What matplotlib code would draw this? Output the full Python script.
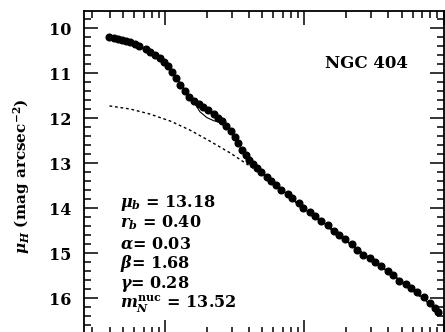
import matplotlib
matplotlib.use("Agg")
import matplotlib.pyplot as plt
import numpy as np
from matplotlib.ticker import MultipleLocator, LogLocator, NullFormatter

# surface brightness profile (log r in arcsec, mu_H in mag/arcsec^2)
LOG_R = [-1.40, -1.37, -1.34, -1.31, -1.28, -1.25, -1.22, -1.19, -1.14, -1.11,
         -1.07, -1.04, -1.01, -0.98, -0.95, -0.92, -0.89, -0.86, -0.83, -0.79,
         -0.76, -0.73, -0.69, -0.65, -0.62, -0.59, -0.56, -0.53, -0.50, -0.48,
         -0.45, -0.42, -0.40, -0.37, -0.34, -0.31, -0.27, -0.24, -0.20, -0.17,
         -0.12, -0.09, -0.04, -0.01, 0.04, 0.08, 0.12, 0.17, 0.21, 0.25,
         0.29, 0.34, 0.38, 0.42, 0.47, 0.51, 0.55, 0.60, 0.64, 0.68,
         0.73, 0.77, 0.81, 0.86, 0.90, 0.94, 0.96]
MU = [10.20, 10.22, 10.24, 10.27, 10.29, 10.31, 10.36, 10.40, 10.47, 10.53,
      10.60, 10.67, 10.76, 10.84, 10.98, 11.11, 11.27, 11.40, 11.53, 11.62,
      11.69, 11.76, 11.82, 11.91, 12.00, 12.07, 12.18, 12.29, 12.42, 12.56,
      12.71, 12.82, 12.93, 13.02, 13.11, 13.20, 13.31, 13.40, 13.49, 13.60,
      13.69, 13.78, 13.89, 14.00, 14.09, 14.18, 14.29, 14.38, 14.51, 14.60,
      14.69, 14.80, 14.93, 15.04, 15.11, 15.20, 15.29, 15.40, 15.49, 15.62,
      15.69, 15.78, 15.87, 15.98, 16.11, 16.22, 16.31]

# total model (solid line)
FIT_LOG_R = [-1.40, -1.20, -1.05, -0.95, -0.85, -0.79, -0.75, -0.70, -0.65, -0.60,
             -0.55, -0.50, -0.45, -0.40, -0.30, -0.20, 0.00, 0.20, 0.40, 0.60,
             0.80, 0.96]
FIT_MU = [10.20, 10.38, 10.65, 10.97, 11.40, 11.66, 11.86, 11.99, 12.06, 12.10,
          12.20, 12.42, 12.71, 12.93, 13.22, 13.49, 14.02, 14.47, 14.96, 15.40,
          15.85, 16.31]

# Nuker component without nucleus (dotted line)
NUK_LOG_R = [-1.40, -1.25, -1.11, -0.96, -0.82, -0.68, -0.53, -0.39, -0.24,
             -0.03, 0.33, 0.69, 1.00]
NUK_MU = [11.73, 11.80, 11.91, 12.07, 12.27, 12.51, 12.78, 13.07, 13.38,
          13.96, 14.80, 15.62, 16.38]

PARAMS = [r"$\mu_b$ = 13.18", r"$r_b$ = 0.40", r"$\alpha$= 0.03",
          r"$\beta$= 1.68", r"$\gamma$= 0.28", r"$m_N^{\rm nuc}$ = 13.52"]

plt.rcParams["font.family"] = "DejaVu Serif"
plt.rcParams["font.weight"] = "bold"
plt.rcParams["mathtext.fontset"] = "dejavuserif"
plt.rcParams["mathtext.default"] = "it"

fig = plt.figure(figsize=(4.45, 3.32), dpi=100)
ax = fig.add_axes([84 / 445, -2 / 332, 359.5 / 445, 323 / 332])

ax.plot(10 ** np.array(FIT_LOG_R), FIT_MU, color="black", lw=0.8)
ax.plot(10 ** np.array(NUK_LOG_R), NUK_MU, color="black", lw=1.0, ls=(0, (2, 2)))
ax.plot(10 ** np.array(LOG_R), MU, "o", color="black", ms=4.8, mec="black")

ax.set_xscale("log")
ax.set_xlim(10 ** -1.583, 10)
ax.set_ylim(16.8, 9.62)

ax.yaxis.set_major_locator(MultipleLocator(1))
ax.yaxis.set_minor_locator(MultipleLocator(0.2))
ax.xaxis.set_major_locator(LogLocator(base=10))
ax.xaxis.set_minor_locator(LogLocator(base=10, subs=np.arange(2, 10)))
ax.xaxis.set_minor_formatter(NullFormatter())

ax.tick_params(which="both", direction="in", top=True, right=True,
               labelbottom=False, width=1.1)
ax.tick_params(which="major", length=10, labelsize=11.5, pad=9)
ax.tick_params(which="minor", length=5)
for s in ax.spines.values():
    s.set_linewidth(1.3)

ax.text(0.671, 0.839, "NGC 404", transform=ax.transAxes, fontsize=12,
        fontweight="bold", va="center", ha="left")

ys = [203, 223, 244, 264, 284, 304]
for txt, yp in zip(PARAMS, ys):
    ax.text(0.10, 1 - (yp - 11) / 323, txt, transform=ax.transAxes,
            fontsize=11.5, va="center", ha="left")

fig.text(22 / 445, 1 - 176 / 332, r"$\mu_H$ (mag arcsec$^{-2}$)", rotation=90,
         fontsize=11, va="center", ha="center")

fig.savefig("out.png", dpi=100)
